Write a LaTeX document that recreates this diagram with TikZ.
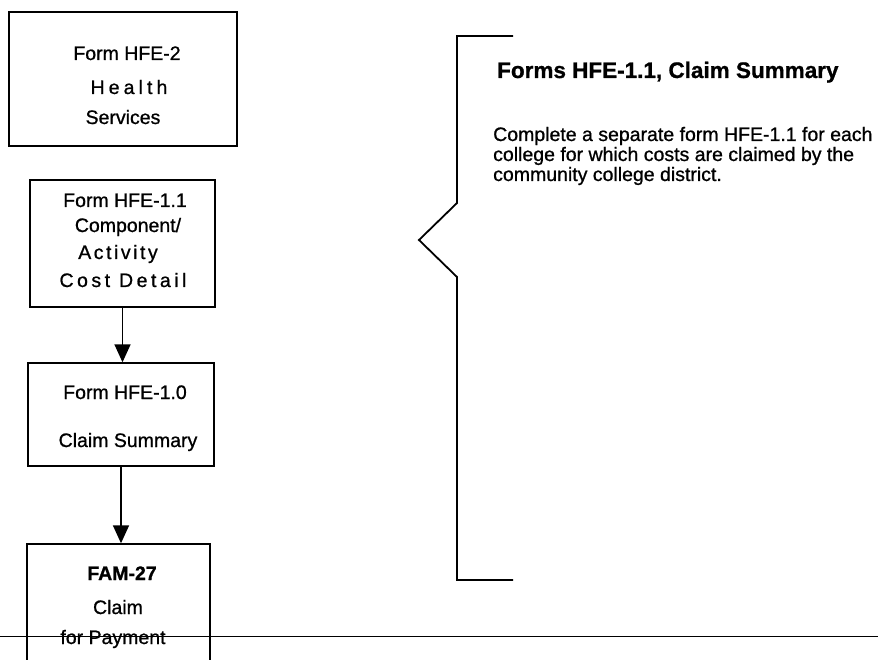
\documentclass[tikz,border=0pt]{standalone}
\usepackage{fontspec}
\setmainfont[FakeBold=0.9]{Liberation Sans}
\usetikzlibrary{arrows.meta}
\begin{document}
\begin{tikzpicture}[x=1pt,y=-1pt,
  box/.style={draw, line width=1.4pt, inner sep=0pt, rectangle},
  lbl/.style={anchor=base, inner sep=0pt, font=\fontsize{19.5}{21}\selectfont},
  body/.style={anchor=base west, inner sep=0pt, font=\fontsize{19.5}{21}\selectfont},
  ttl/.style={anchor=base west, inner sep=0pt, font=\fontsize{22.5}{26}\selectfont\bfseries},
  arr/.style={line width=1.6pt, -{Triangle[width=16pt,length=18pt]}},
  brk/.style={line width=1.8pt, line join=miter},
  rule/.style={line width=1pt}]
\useasboundingbox (0,0) rectangle (878,660);
\clip (0,0) rectangle (878,660);
% boxes
\node[box, minimum width=228pt, minimum height=134pt] (b1) at (123,79) {};
\node[box, minimum width=185pt, minimum height=127pt] (b2) at (122.5,243.5) {};
\node[box, minimum width=186pt, minimum height=103pt] (b3) at (121,414.5) {};
\node[box, minimum width=183pt, minimum height=156pt] (b4) at (118.5,622) {};
% box texts
\node[lbl] (b1a) at (127,60) {Form HFE-2};
\node[lbl] (b1b) at (129,94) {\addfontfeatures{LetterSpace=21}Health};
\node[lbl] (b1c) at (123,124) {Services};
\node[lbl] (b2a) at (125,207) {Form HFE-1.1};
\node[lbl] (b2b) at (128,232) {Component/};
\node[lbl] (b2c) at (118,259) {\addfontfeatures{LetterSpace=13}Activity};
\node[lbl] (b2d) at (123,287) {\addfontfeatures{LetterSpace=18}Cost Detail};
\node[lbl] (b3a) at (125,399) {Form HFE-1.0};
\node[lbl] (b3b) at (128,447) {Claim Summary};
\node[lbl, font=\fontsize{19.5}{21}\selectfont\bfseries] (b4a) at (122,580) {FAM-27};
\node[lbl] (b4b) at (118,614) {Claim};
\node[lbl] (b4c) at (113,644) {for Payment};
% arrows
\draw[arr] (b2.south) -- (b2.south |- b3.north);
\draw[arr] (b3.south) -- (b3.south |- b4.north);
% horizontal rule
\coordinate (hl) at (0,636);
\coordinate (hr) at (878,636);
\draw[rule] (hl) -- (hr);
% bracket
\coordinate (k1) at (513,36);
\coordinate (k2) at (457,36);
\coordinate (k3) at (457,203);
\coordinate (k4) at (419,240);
\coordinate (k5) at (457,277);
\coordinate (k6) at (457,580);
\coordinate (k7) at (513,580);
\draw[brk] (k1) -- (k2) -- (k3) -- (k4) -- (k5) -- (k6) -- (k7);
% right texts
\node[ttl] (t1) at (497,78) {Forms HFE-1.1, Claim Summary};
\node[body] (t2) at (493,141) {Complete a separate form HFE-1.1 for each};
\node[body] (t3) at (493,161) {college for which costs are claimed by the};
\node[body] (t4) at (493,181) {community college district.};
\end{tikzpicture}
\end{document}
